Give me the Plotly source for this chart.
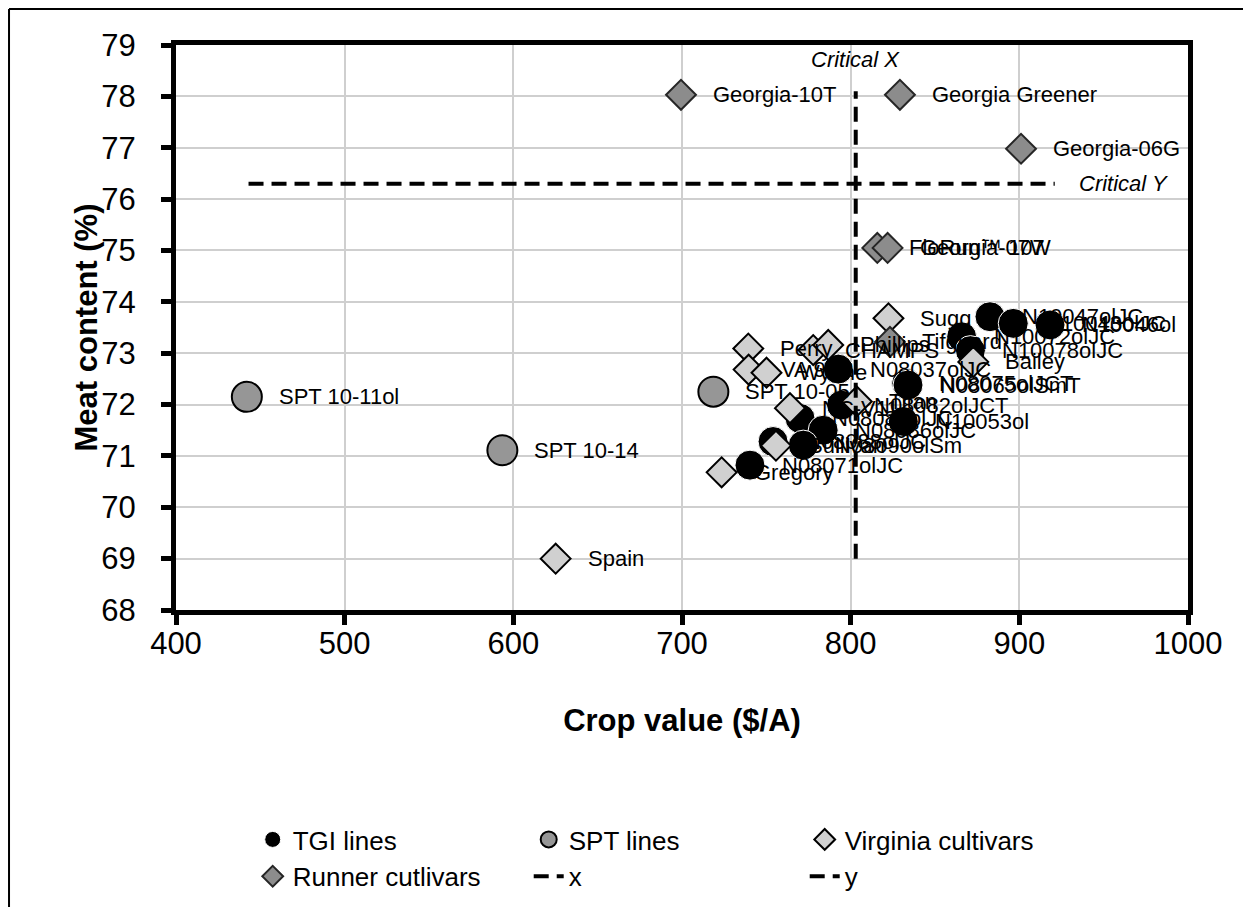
import plotly.graph_objects as go

# ---------------- data ----------------
tgi_x = [882.6, 896.4, 918.2, 865.8, 871.0, 833.2, 834.0, 792.6, 794.6, 831.2, 770.0, 783.7, 771.9, 754.0, 740.3]
tgi_y = [73.71, 73.58, 73.55, 73.32, 73.05, 72.41, 72.38, 72.69, 71.99, 71.67, 71.73, 71.50, 71.21, 71.28, 70.82]
tgi_labels = ["N10047olJC", "N10043olJC", "N10046ol", "N10072olJC", "N10078olJC", "N08075olJCT",
              "N08065olSmT", "N08037olJC", "N08082olJCT", "N10053ol", "N08089olJC", "N08086olJC",
              "N08090olSm", "N08088olJC", "N08071olJC"]

spt_x = [442.0, 593.5, 718.6]
spt_y = [72.15, 71.11, 72.25]
spt_labels = ["SPT 10-11ol", "SPT 10-14", "SPT 10-05"]

vir_x = [625.1, 723.5, 755.7, 764.0, 803.6, 739.3, 739.5, 750.1, 777.8, 786.7, 822.4, 872.7]
vir_y = [69.00, 70.68, 71.20, 71.93, 72.06, 73.09, 72.68, 72.62, 73.06, 73.16, 73.68, 72.83]
vir_labels = ["Spain", "Gregory", "Sullivan", "NC-V11", "Titan", "Perry", "VA 98R", "Wynne",
              "CHAMPS", "Phillips", "Sugg", "Bailey"]

run_x = [699.4, 829.2, 901.0, 815.8, 821.9, 823.3]
run_y = [78.03, 78.03, 76.98, 75.05, 75.05, 73.22]
run_labels = ["Georgia-10T", "Georgia Greener", "Georgia-06G", "FloRun™ 107", "Georgia-07W", "Tifguard"]

crit_x = 803.0
crit_y = 76.3
crit_x_span = [69.0, 78.1]
crit_y_span = [443.0, 921.0]

x_ticks = [400, 500, 600, 700, 800, 900, 1000]
y_ticks = [68, 69, 70, 71, 72, 73, 74, 75, 76, 77, 78, 79]

FONT = "Liberation Sans, Arial, sans-serif"

fig = go.Figure()

fig.add_trace(go.Scatter(x=tgi_x, y=tgi_y, mode="markers", name="TGI lines",
                         marker=dict(symbol="circle", size=30, color="#000000",
                                     line=dict(color="#ffffff", width=1))))
fig.add_trace(go.Scatter(x=spt_x, y=spt_y, mode="markers", name="SPT lines",
                         marker=dict(symbol="circle", size=30, color="#969696",
                                     line=dict(color="#000000", width=2))))
fig.add_trace(go.Scatter(x=vir_x, y=vir_y, mode="markers", name="Virginia cultivars",
                         marker=dict(symbol="diamond", size=23, color="#d0d0d0",
                                     line=dict(color="#000000", width=2))))
fig.add_trace(go.Scatter(x=run_x, y=run_y, mode="markers", name="Runner cutlivars",
                         marker=dict(symbol="diamond", size=23, color="#8c8c8c",
                                     line=dict(color="#262626", width=2))))
fig.add_trace(go.Scatter(x=[crit_x, crit_x], y=crit_x_span, mode="lines", name="x",
                         line=dict(color="#000000", width=4, dash="15px,8px")))
fig.add_trace(go.Scatter(x=crit_y_span, y=[crit_y, crit_y], mode="lines", name="y",
                         line=dict(color="#000000", width=4, dash="15px,8px")))

annotations = []
for xs, ys, labs in [(tgi_x, tgi_y, tgi_labels), (spt_x, spt_y, spt_labels),
                     (vir_x, vir_y, vir_labels), (run_x, run_y, run_labels)]:
    for xv, yv, lab in zip(xs, ys, labs):
        annotations.append(dict(x=xv, y=yv, xref="x", yref="y", text=lab, showarrow=False,
                                xanchor="left", yanchor="middle", xshift=30,
                                font=dict(family=FONT, size=22, color="#000000")))

annotations.append(dict(x=crit_x, y=crit_x_span[1], xref="x", yref="y", text="<i>Critical X</i>",
                        showarrow=False, xanchor="center", yanchor="middle", yshift=32,
                        font=dict(family=FONT, size=22, color="#000000")))
annotations.append(dict(x=crit_y_span[1], y=crit_y, xref="x", yref="y", text="<i>Critical Y</i>",
                        showarrow=False, xanchor="left", yanchor="middle", xshift=22,
                        font=dict(family=FONT, size=22, color="#000000")))
annotations.append(dict(x=-0.0889, y=0.5, xref="paper", yref="paper", text="<b>Meat content (%)</b>",
                        showarrow=False, xanchor="center", yanchor="middle", textangle=-90,
                        font=dict(family=FONT, size=31, color="#000000")))

fig.update_layout(
    width=1243, height=899,
    margin=dict(l=168, r=63, t=37, b=297),
    paper_bgcolor="#ffffff", plot_bgcolor="#ffffff",
    font=dict(family=FONT, color="#000000"),
    annotations=annotations,
    showlegend=True,
    legend=dict(orientation="h", x=0.0758, y=0.1012, yref="container", xanchor="left", yanchor="top",
                entrywidth=231, entrywidthmode="pixels",
                font=dict(family=FONT, size=26, color="#000000"),
                bgcolor="rgba(0,0,0,0)", itemsizing="trace"),
    shapes=[
        dict(type="line", xref="paper", yref="paper", x0=-0.165, x1=1.07, y0=1.0637, y1=1.0637,
             line=dict(color="#000000", width=2)),
        dict(type="line", xref="paper", yref="paper", x0=-0.165, x1=-0.165, y0=1.0637, y1=-0.6,
             line=dict(color="#000000", width=2)),
    ],
)

fig.update_xaxes(range=[400, 1000], tickvals=x_ticks, ticktext=[str(v) for v in x_ticks],
                 showgrid=True, gridcolor="#cfcfcf", gridwidth=2,
                 showline=True, linecolor="#000000", linewidth=5, mirror=True,
                 ticks="outside", ticklen=10, tickwidth=5, tickcolor="#000000",
                 tickfont=dict(family=FONT, size=31), zeroline=False, ticklabelstandoff=-8,
                 title=dict(text="<b>Crop value ($/A)</b>", font=dict(family=FONT, size=31), standoff=51))
fig.update_yaxes(range=[68, 79], tickvals=y_ticks, ticktext=[str(v) for v in y_ticks],
                 showgrid=True, gridcolor="#cfcfcf", gridwidth=2,
                 showline=True, linecolor="#000000", linewidth=5, mirror=True,
                 ticks="outside", ticklen=10, tickwidth=5, tickcolor="#000000",
                 tickfont=dict(family=FONT, size=31), zeroline=False, ticklabelstandoff=19)

fig.write_html("out.html")
